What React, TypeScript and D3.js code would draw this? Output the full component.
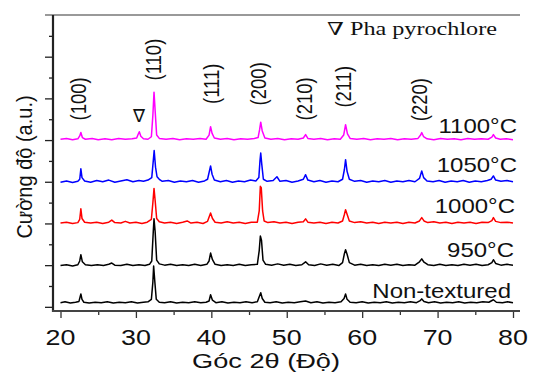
import React, { useEffect, useRef } from "react";
import * as d3 from "d3";

type Pt = [number, number];

// XRD patterns, 2θ (deg) vs intensity (a.u., already offset per sample)
const nonTextured: Pt[] = [
  [20,10],[20.6,12],[21.3,9],[22,11],[22.45,13],[22.6,24],[22.7,31],[22.85,18],[23.1,11],[23.8,9],[24.6,11],[25.4,10],[26.2,12],[27,9],[27.8,11],[28.6,10],[29.4,12],[30.2,9],[31,11],[31.6,12],[32.05,18],[32.25,60],[32.35,98],[32.5,62],[32.7,18],[33.1,11],[33.8,10],[34.6,12],[35.4,9],[36.2,11],[37,10],[37.8,12],[38.6,10],[39.3,11],[39.7,14],[39.9,29],[40.15,16],[40.6,10],[41.4,12],[42.2,9],[43,11],[43.8,10],[44.6,12],[45.4,10],[46.1,12],[46.35,24],[46.55,34],[46.75,20],[47.1,11],[47.8,10],[48.6,12],[49.4,9],[50.2,11],[51,10],[51.8,12],[52.5,14],[53.2,10],[54,12],[54.8,9],[55.6,11],[56.4,10],[57.2,12],[57.6,20],[57.8,31],[58.0,18],[58.4,11],[59.2,10],[60,12],[60.8,9],[61.6,11],[62.4,10],[63.2,12],[64,9],[64.8,11],[65.6,10],[66.4,12],[67.2,10],[67.7,15],[67.9,19],[68.2,13],[68.8,10],[69.6,12],[70.4,9],[71.2,11],[72,10],[72.8,12],[73.6,9],[74.4,11],[75.2,10],[76,12],[76.8,11],[77.4,17],[77.8,11],[78.6,10],[79.3,12],[80,10],
];
const t950: Pt[] = [
  [20,99],[20.8,101],[21.6,98],[22.3,101],[22.55,110],[22.7,125],[22.9,108],[23.3,101],[24.1,99],[24.9,101],[25.7,99],[26.4,102],[26.8,105],[27.2,100],[28,99],[28.8,102],[29.6,99],[30.4,101],[31.2,99],[31.8,102],[32.1,110],[32.3,180],[32.4,211],[32.55,180],[32.75,112],[33.1,103],[33.8,100],[34.6,102],[35.4,99],[36.2,101],[37,99],[37.8,102],[38.6,99],[39.4,102],[39.7,110],[39.9,129],[40.15,113],[40.5,102],[41.3,99],[42.1,101],[42.9,99],[43.7,102],[44.5,99],[45.3,101],[46.1,102],[46.35,135],[46.5,170],[46.65,160],[46.85,112],[47.2,102],[48,100],[48.8,103],[49.6,100],[50.4,102],[51.2,99],[52,101],[52.5,108],[52.9,101],[53.7,99],[54.5,103],[55.3,100],[56.1,102],[56.9,99],[57.4,106],[57.65,128],[57.8,137],[58.0,126],[58.3,106],[59,100],[59.8,102],[60.6,99],[61.4,101],[62.2,99],[63,102],[63.8,100],[64.6,102],[65.4,99],[66.2,101],[67,100],[67.6,108],[67.9,115],[68.2,107],[68.7,101],[69.5,99],[70.3,102],[71.1,99],[71.9,101],[72.7,99],[73.5,102],[74.3,100],[75.1,102],[75.9,99],[76.7,101],[77.2,106],[77.4,113],[77.7,104],[78.4,100],[79.2,102],[80,100],
];
const t1000: Pt[] = [
  [20,201],[20.8,203],[21.6,200],[22.3,202],[22.55,210],[22.7,235],[22.85,212],[23.2,203],[24,201],[24.8,203],[25.6,200],[26.4,203],[26.8,208],[27.2,202],[28,201],[28.6,205],[29.2,201],[30,203],[30.8,200],[31.5,203],[32.05,210],[32.25,250],[32.4,284],[32.55,255],[32.75,212],[33.1,204],[33.8,201],[34.6,203],[35.4,200],[36.2,203],[36.8,206],[37.3,201],[38.1,203],[38.9,200],[39.5,205],[39.9,225],[40.15,212],[40.5,203],[41.3,201],[42.1,204],[42.9,201],[43.7,203],[44.5,200],[45.3,203],[46.1,203],[46.35,230],[46.5,289],[46.62,286],[46.8,230],[47.0,206],[47.5,202],[48.3,204],[49.1,201],[49.9,203],[50.7,200],[51.5,203],[52.2,204],[52.5,211],[52.8,203],[53.6,201],[54.4,203],[55.2,200],[56,203],[56.8,201],[57.4,206],[57.65,222],[57.8,233],[58.0,222],[58.3,206],[59,202],[59.8,204],[60.6,201],[61.4,203],[62.2,200],[63,203],[63.8,201],[64.6,203],[65.4,200],[66.2,203],[67,201],[67.6,206],[67.9,214],[68.2,206],[68.7,202],[69.5,204],[70.3,201],[71.1,203],[71.9,200],[72.7,203],[73.5,201],[74.3,203],[75.1,200],[75.9,203],[76.7,202],[77.2,207],[77.4,214],[77.7,205],[78.4,202],[79.2,203],[80,201],
];
const t1050: Pt[] = [
  [20,299],[20.8,302],[21.6,298],[22.3,301],[22.55,306],[22.7,331],[22.85,310],[23.2,302],[24,299],[24.8,303],[25.6,300],[26.4,304],[27.2,299],[28,302],[28.8,305],[29.6,300],[30.4,303],[31,301],[31.6,304],[32.1,310],[32.3,350],[32.42,375],[32.6,335],[32.8,312],[33.1,306],[33.5,301],[34.3,303],[35.1,299],[35.9,302],[36.7,300],[37.5,303],[38.3,299],[39.1,302],[39.5,306],[39.9,338],[40.1,318],[40.4,304],[41.2,300],[42,303],[42.8,299],[43.6,302],[44.4,300],[45.2,304],[45.9,302],[46.3,310],[46.45,350],[46.55,369],[46.7,340],[46.9,306],[47.4,301],[48.2,303],[48.7,312],[49.1,301],[49.9,303],[50.7,299],[51.5,302],[52.2,306],[52.5,317],[52.8,304],[53.6,300],[54.4,303],[55.2,299],[56,302],[56.8,300],[57.4,306],[57.65,330],[57.8,353],[58.0,325],[58.3,306],[59,301],[59.8,303],[60.6,299],[61.4,302],[62.2,300],[63,303],[63.8,299],[64.6,302],[65.4,300],[66.2,303],[67,300],[67.6,308],[67.9,326],[68.15,310],[68.6,302],[69.4,300],[70.2,303],[71,299],[71.8,302],[72.6,300],[73.4,303],[74.2,299],[75,302],[75.8,300],[76.6,303],[77.1,306],[77.4,314],[77.7,304],[78.4,301],[79.2,303],[80,300],
];
const t1100: Pt[] = [
  [20,402],[20.8,404],[21.6,401],[22.3,403],[22.55,410],[22.7,418],[22.9,406],[23.3,402],[24.2,404],[25,401],[25.9,403],[26.8,401],[27.7,404],[28.6,402],[29.5,403],[30.1,405],[30.3,414],[30.45,420],[30.65,409],[31,403],[31.6,402],[32.05,408],[32.25,460],[32.4,515],[32.55,470],[32.75,412],[33.1,404],[34,402],[34.9,404],[35.8,401],[36.7,403],[37.6,402],[38.5,404],[39.3,402],[39.7,412],[39.9,432],[40.1,416],[40.4,405],[41.2,402],[42.1,404],[43,401],[43.9,403],[44.8,402],[45.7,404],[46.2,406],[46.4,425],[46.55,443],[46.75,422],[47.1,405],[47.9,402],[48.8,404],[49.7,401],[50.6,403],[51.5,402],[52.2,405],[52.5,413],[52.8,404],[53.6,402],[54.5,404],[55.4,401],[56.3,403],[57.1,402],[57.55,412],[57.8,437],[58.05,415],[58.4,404],[59.3,402],[60.2,404],[61.1,401],[62,403],[62.9,402],[63.8,404],[64.7,401],[65.6,403],[66.5,402],[67.4,404],[67.75,412],[67.9,418],[68.15,408],[68.6,403],[69.5,401],[70.4,404],[71.3,402],[72.2,403],[73.1,401],[74,404],[74.9,402],[75.8,403],[76.7,402],[77.2,407],[77.4,413],[77.7,405],[78.3,402],[79.1,403],[80,401],
];

const seriesData = [nonTextured, t950, t1000, t1050, t1100];
const seriesNames = ["Non-textured", "950°C", "1000°C", "1050°C", "1100°C"];
const seriesColors = ["#000000", "#000000", "#ff0000", "#0000ff", "#ff00ff"];

const peakLabels = ["(100)", "(110)", "(111)", "(200)", "(210)", "(211)", "(220)"];
const peakAngles = [22.3, 32.25, 39.95, 46.2, 52.3, 57.5, 67.6];
const peakLabelLevels = [499, 593, 535, 535, 499, 528, 497];

const xTicks = [20, 30, 40, 50, 60, 70, 80];
const xMinorTicks = [25, 35, 45, 55, 65, 75];
const yTicks = [0, 100, 200, 300, 400, 500, 600];
const yMinorTicks = [50, 150, 250, 350, 450, 550, 650];

const xTitle = "Góc 2θ (Độ)";
const yTitle = "Cường độ (a.u.)";
const legendText = "∇ Pha pyrochlore";

const W = 534;
const H = 372;
const SANS = "'Liberation Sans', Arial, 'DejaVu Sans', sans-serif";
const SERIF = "'Liberation Serif', 'Times New Roman', 'DejaVu Serif', serif";
const STRETCH = 1.2;

const App = () => {
  const svgRef = useRef<SVGSVGElement>(null);

  useEffect(() => {
    const svg = d3.select(svgRef.current);
    svg.selectAll("*").remove();

    const x = d3.scaleLinear().domain([20, 80]).range([60.5, 513]);
    const y = d3.scaleLinear().domain([-10, 700]).range([311, 15]);

    svg.append("rect").attr("width", W).attr("height", H).attr("fill", "#fff");

    // curves
    const line = d3.line<Pt>().x(d => x(d[0])).y(d => y(d[1]));
    seriesData.forEach((s, i) => {
      svg.append("path")
        .attr("d", line(s))
        .attr("fill", "none")
        .attr("stroke", seriesColors[i])
        .attr("stroke-width", 1.5)
        .attr("stroke-linejoin", "round");
    });

    // left axis ticks (major + minor)
    const gl = svg.append("g").attr("transform", "translate(53,0)");
    gl.call(d3.axisLeft(y).tickValues(yTicks).tickSize(8).tickFormat(() => ""))
      .call(g => g.select(".domain").remove());
    gl.append("g").call(d3.axisLeft(y).tickValues(yMinorTicks).tickSize(4).tickFormat(() => ""))
      .call(g => g.select(".domain").remove());
    gl.selectAll("line").attr("stroke", "#222").attr("stroke-width", 1.3);

    // bottom axis ticks
    const gb = svg.append("g").attr("transform", "translate(0,311)");
    gb.call(d3.axisBottom(x).tickValues(xTicks).tickSize(7).tickFormat(() => ""))
      .call(g => g.select(".domain").remove());
    gb.append("g").call(d3.axisBottom(x).tickValues(xMinorTicks).tickSize(4).tickFormat(() => ""))
      .call(g => g.select(".domain").remove());
    gb.selectAll("line").attr("stroke", "#333").attr("stroke-width", 1.3);

    // frame lines
    svg.append("line").attr("x1", 45).attr("x2", 520).attr("y1", 15).attr("y2", 15)
      .attr("stroke", "#777").attr("stroke-width", 1.6);
    svg.append("line").attr("x1", 53).attr("x2", 53).attr("y1", 15).attr("y2", 312)
      .attr("stroke", "#222").attr("stroke-width", 2.2);
    svg.append("line").attr("x1", 52).attr("x2", 520).attr("y1", 311).attr("y2", 311)
      .attr("stroke", "#444").attr("stroke-width", 2);

    // x tick labels
    xTicks.forEach(t => {
      svg.append("text")
        .attr("transform", `translate(${x(t)},345) scale(1.22,1)`)
        .attr("text-anchor", "middle")
        .attr("font-family", SANS).attr("font-size", 22).attr("fill", "#111")
        .text(t);
    });

    // axis titles
    svg.append("text")
      .attr("x", 192).attr("y", 368)
      .attr("textLength", 148).attr("lengthAdjust", "spacingAndGlyphs")
      .attr("font-family", SANS).attr("font-size", 20).attr("fill", "#111")
      .text(xTitle);
    svg.append("text")
      .attr("transform", `translate(24,167) scale(1.1,1) rotate(-90)`)
      .attr("text-anchor", "middle").attr("dy", "0.35em")
      .attr("font-family", SANS).attr("font-size", 20).attr("fill", "#111")
      .text(yTitle);

    // peak (hkl) labels
    peakLabels.forEach((lab, i) => {
      svg.append("text")
        .attr("transform", `translate(${x(peakAngles[i])},${y(peakLabelLevels[i])}) scale(${STRETCH},1) rotate(-90)`)
        .attr("text-anchor", "middle").attr("dy", "0.36em")
        .attr("font-family", SANS).attr("font-size", 18.5).attr("fill", "#111")
        .text(lab);
    });

    // pyrochlore marker
    svg.append("text")
      .attr("x", x(30.4)).attr("y", 122)
      .attr("text-anchor", "middle")
      .attr("font-family", "'DejaVu Sans', sans-serif").attr("font-size", 18).attr("fill", "#111")
      .text("∇");

    // legend note
    svg.append("text")
      .attr("x", 327).attr("y", 35)
      .attr("textLength", 170).attr("lengthAdjust", "spacingAndGlyphs")
      .attr("font-family", SERIF).attr("font-size", 18).attr("fill", "#111")
      .text(legendText);

    // temperature labels
    const labelRight = [511, 514, 515, 517, 517];
    const labelBase = [298, 257, 213, 172, 133];
    seriesNames.forEach((name, i) => {
      svg.append("text")
        .attr("transform", `translate(${labelRight[i]},${labelBase[i]}) scale(${STRETCH},1)`)
        .attr("text-anchor", "end")
        .attr("font-family", SANS).attr("font-size", 20).attr("fill", "#111")
        .text(name);
    });
  }, []);

  return (
    <svg
      ref={svgRef}
      width={W}
      height={H}
      style={{ position: "absolute", left: 0, top: 0, display: "block" }}
    />
  );
};

export default App;
